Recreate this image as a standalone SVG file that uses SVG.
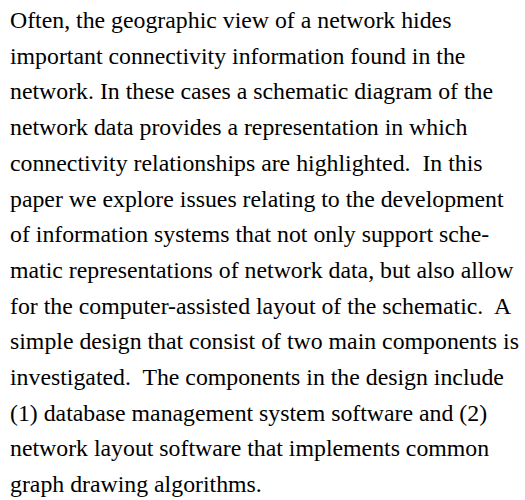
<svg xmlns="http://www.w3.org/2000/svg" width="525" height="500" viewBox="0 0 525 500">
<style>
.t{font-family:"Liberation Serif","Times New Roman",serif;font-size:23.8px;fill:#000}
</style>
<rect width="525" height="500" fill="#fff"/>
<g id="abstract" class="t">
<text x="10" y="28">Often, the geographic view of a network hides</text>
<text x="10" y="63.7">important connectivity information found in the</text>
<text x="10" y="99.4">network. In these cases a schematic diagram of the</text>
<text x="10" y="135.1">network data provides a representation in which</text>
<text x="10" y="170.8">connectivity relationships are highlighted.&#160; In this</text>
<text x="10" y="206.5">paper we explore issues relating to the development</text>
<text x="10" y="242.2">of information systems that not only support sche-</text>
<text x="10" y="277.9">matic representations of network data, but also allow</text>
<text x="10" y="313.6">for the computer-assisted layout of the schematic.&#160; A</text>
<text x="10" y="349.3">simple design that consist of two main components is</text>
<text x="10" y="385">investigated.&#160; The components in the design include</text>
<text x="10" y="420.7">(1) database management system software and (2)</text>
<text x="10" y="456.4">network layout software that implements common</text>
<text x="10" y="492.1">graph drawing algorithms.</text>
</g>
</svg>
